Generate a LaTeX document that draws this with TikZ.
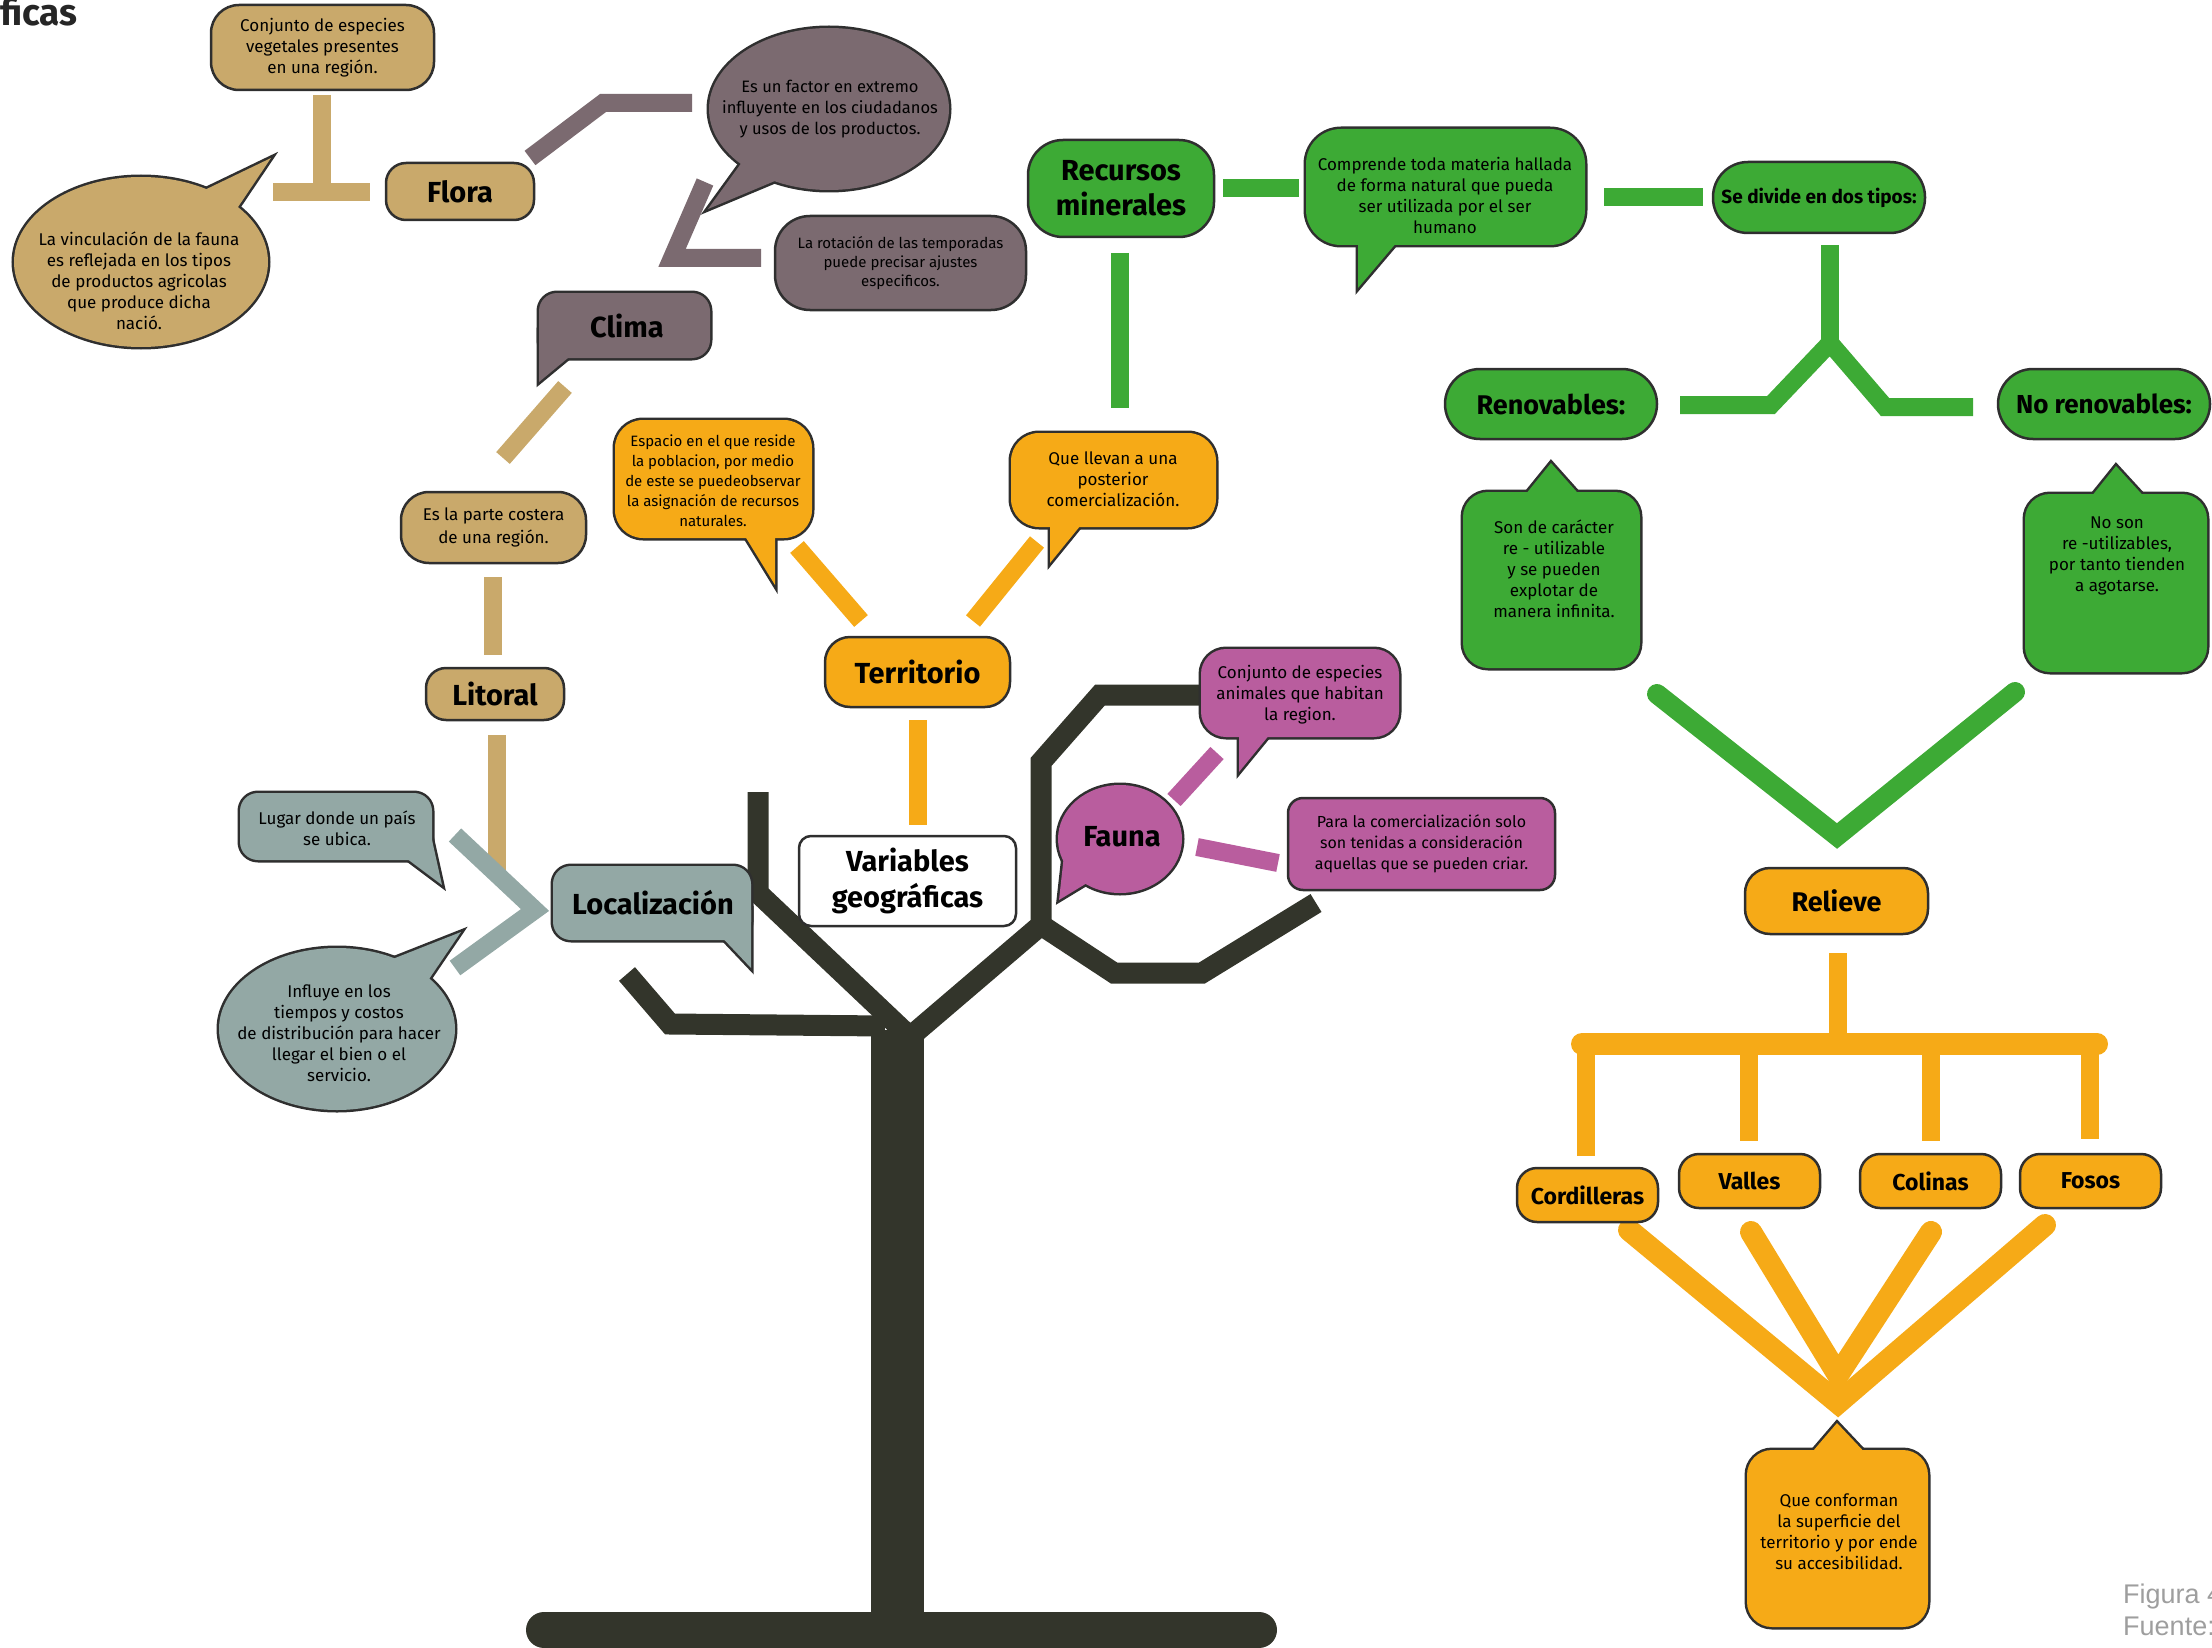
\documentclass[tikz,border=0pt]{standalone}
\usepackage{fontspec}
\setmainfont{Fira Sans}
\newfontfamily\arialf{Liberation Sans}
\definecolor{tanC}{HTML}{C9A96B}
\definecolor{mauveC}{HTML}{7B6A70}
\definecolor{greenC}{HTML}{3DAA35}
\definecolor{orangeC}{HTML}{F6AA17}
\definecolor{pinkC}{HTML}{B95D9E}
\definecolor{grayC}{HTML}{93A8A5}
\definecolor{treeC}{HTML}{33352B}
\definecolor{lnc}{HTML}{2F2F2F}
\newcommand\spk[3]{%
  \draw[draw=lnc,line width=5pt] #2;
  \draw[draw=lnc,line width=5pt] #3;
  \fill[#1] #2;
  \fill[#1] #3;}
\begin{document}
\begin{tikzpicture}[x=1pt,y=-1pt,
  bar/.style={line width=18pt},
  treeln/.style={draw=treeC, line width=21pt},
  rbox/.style={draw=lnc, line width=2.5pt, align=center, inner sep=0pt},
  lbl/.style={font=\fontsize{29}{35}\selectfont\bfseries},
  mlbl/.style={font=\fontsize{23}{28}\selectfont\bfseries},
  txt/.style={font=\fontsize{17}{21}\selectfont, align=center, inner sep=0pt},
  stxt/.style={font=\fontsize{15}{19}\selectfont, align=center, inner sep=0pt}]
\useasboundingbox (0,0) rectangle (2212,1648);
\clip (0,0) rectangle (2212,1648);

% ---------- tree ----------
\coordinate (tA) at (758,792); \coordinate (tB) at (758,893); \coordinate (tJ) at (908,1035);
\coordinate (tJ2) at (897,1048); \coordinate (tC) at (1041,925); \coordinate (tD) at (1041,762);
\coordinate (tE) at (1100,695); \coordinate (tF) at (1199,695);
\coordinate (tG) at (1114,973); \coordinate (tH) at (1202,973); \coordinate (tI) at (1316,903);
\coordinate (tK) at (627,974); \coordinate (tL) at (670,1024); \coordinate (tM) at (885,1026);
\coordinate (tT1) at (897,1030); \coordinate (tT2) at (897,1625);
\coordinate (tb1) at (544,1630); \coordinate (tb2) at (1259,1630);
\draw[treeln] (tA) -- (tB) -- (tJ);
\draw[treeln] (tJ2) -- (tC) -- (tD) -- (tE) -- (tF);
\draw[treeln] (tC) -- (tG) -- (tH) -- (tI);
\draw[treeln] (tK) -- (tL) -- (tM);
\draw[draw=treeC, line width=53pt] (tT1) -- (tT2);
\draw[draw=treeC, line width=36pt, line cap=round] (tb1) -- (tb2);

% ---------- connectors ----------
\coordinate (c1) at (322,95); \coordinate (c2) at (322,192);
\coordinate (c3) at (273,192); \coordinate (c4) at (370,192);
\draw[bar, tanC] (c1) -- (c2); \draw[bar, tanC] (c3) -- (c4);
\coordinate (m1) at (530,158); \coordinate (m2) at (603,103); \coordinate (m3) at (692,103);
\draw[bar, mauveC] (m1) -- (m2) -- (m3);
\coordinate (m4) at (705,182); \coordinate (m5) at (672,258); \coordinate (m6) at (761,258);
\draw[bar, mauveC] (m4) -- (m5) -- (m6);
\coordinate (t1) at (565,387); \coordinate (t2) at (503,458);
\draw[bar, tanC] (t1) -- (t2);
\coordinate (t3) at (493,577); \coordinate (t4) at (493,655);
\draw[bar, tanC] (t3) -- (t4);
\coordinate (t5) at (497,735); \coordinate (t6) at (497,870);
\draw[bar, tanC] (t5) -- (t6);
\coordinate (g1) at (455,835); \coordinate (g2) at (535,910); \coordinate (g3) at (455,968);
\draw[bar, grayC] (g1) -- (g2) -- (g3);
\coordinate (o1) at (797,547); \coordinate (o2) at (861,621);
\coordinate (o3) at (1037,542); \coordinate (o4) at (973,621);
\coordinate (o5) at (918,720); \coordinate (o6) at (918,825);
\draw[bar, orangeC] (o1) -- (o2); \draw[bar, orangeC] (o3) -- (o4); \draw[bar, orangeC] (o5) -- (o6);
\coordinate (p1) at (1217,753); \coordinate (p2) at (1174,800);
\coordinate (p3) at (1197,847); \coordinate (p4) at (1278,863);
\draw[bar, pinkC] (p1) -- (p2); \draw[bar, pinkC] (p3) -- (p4);
\coordinate (v1) at (1120,253); \coordinate (v2) at (1120,408);
\coordinate (v3) at (1223,188); \coordinate (v4) at (1299,188);
\coordinate (v5) at (1604,197); \coordinate (v6) at (1703,197);
\draw[bar, greenC] (v1) -- (v2); \draw[bar, greenC] (v3) -- (v4); \draw[bar, greenC] (v5) -- (v6);
\coordinate (y1) at (1830,245); \coordinate (y2) at (1830,340);
\coordinate (y3) at (1680,405); \coordinate (y4) at (1771,405); \coordinate (y5) at (1830,343);
\coordinate (y6) at (1885,407); \coordinate (y7) at (1973,407);
\draw[bar, greenC] (y3) -- (y4) -- (y5) -- (y6) -- (y7);
\draw[bar, greenC] (y1) -- (y2);
\coordinate (w1) at (1657,694); \coordinate (w2) at (1837,836); \coordinate (w3) at (2015,692);
\draw[bar, greenC, line width=20pt, line cap=round] (w1) -- (w2) -- (w3);
\coordinate (r1) at (1838,953); \coordinate (r2) at (1838,1044);
\coordinate (r3) at (1582,1044); \coordinate (r4) at (2097,1044);
\draw[bar, orangeC] (r1) -- (r2);
\draw[bar, orangeC, line width=22pt, line cap=round] (r3) -- (r4);
\coordinate (d1) at (1586,1044); \coordinate (d1b) at (1586,1156);
\coordinate (d2) at (1749,1044); \coordinate (d2b) at (1749,1141);
\coordinate (d3) at (1931,1044); \coordinate (d3b) at (1931,1141);
\coordinate (d4) at (2090,1044); \coordinate (d4b) at (2090,1139);
\draw[bar, orangeC] (d1) -- (d1b); \draw[bar, orangeC] (d2) -- (d2b);
\draw[bar, orangeC] (d3) -- (d3b); \draw[bar, orangeC] (d4) -- (d4b);
\coordinate (f1) at (1629,1230); \coordinate (f2) at (1751,1232);
\coordinate (f3) at (1931,1232); \coordinate (f4) at (2045,1225);
\coordinate (fo) at (1838,1403); \coordinate (fi) at (1838,1375);
\draw[orangeC, line width=22pt, line cap=round] (f1) -- (fo) -- (f4);
\draw[orangeC, line width=22pt, line cap=round] (f2) -- (fi) -- (f3);

% ---------- speech shapes ----------
\spk{tanC}{(141,262) ellipse [x radius=127pt, y radius=85pt]}{(190,197) -- (232,216) -- (271,158) -- cycle}
\spk{mauveC}{(829,109) ellipse [x radius=120pt, y radius=81pt]}{(745,158) -- (782,178) -- (708,209) -- cycle}
\spk{mauveC}{[rounded corners=18pt] (539,293) rectangle (710,358)}{(539,330) -- (539,382) -- (568,358) -- (570,330) -- cycle}
\spk{orangeC}{[rounded corners=28pt] (615,420) rectangle (812,538)}{(740,528) -- (775,585) -- (775,528) -- cycle}
\spk{orangeC}{[rounded corners=28pt] (1011,433) rectangle (1216,527)}{(1050,510) -- (1050,563) -- (1085,520) -- cycle}
\spk{greenC}{[rounded corners=35pt] (1306,129) rectangle (1585,245)}{(1358,230) -- (1358,288) -- (1403,235) -- cycle}
\spk{greenC}{[rounded corners=25pt] (1463,492) rectangle (1640,668)}{(1521,500) -- (1551,463) -- (1584,500) -- cycle}
\spk{greenC}{[rounded corners=25pt] (2025,494) rectangle (2207,672)}{(2087,502) -- (2116,466) -- (2149,502) -- cycle}
\spk{orangeC}{[rounded corners=25pt] (1747,1450) rectangle (1928,1627)}{(1807,1458) -- (1837,1423) -- (1870,1458) -- cycle}
\spk{grayC}{[rounded corners=18pt] (240,793) rectangle (432,860)}{(398,852) -- (442,885) -- (432,840) -- cycle}
\spk{grayC}{[rounded corners=18pt] (553,866) rectangle (751,940)}{(715,930) -- (751,968) -- (751,910) -- cycle}
\spk{grayC}{(337,1029) ellipse [x radius=118pt, y radius=81pt]}{(385,962) -- (425,985) -- (461,932) -- cycle}
\spk{pinkC}{(1120,839) ellipse [x radius=62pt, y radius=54pt]}{(1064,855) -- (1059,900) -- (1092,880) -- cycle}
\spk{pinkC}{[rounded corners=25pt] (1201,649) rectangle (1399,737)}{(1239,725) -- (1239,772) -- (1275,728) -- cycle}

% ---------- texts of speech shapes ----------
\node[txt] (tanell) at (139,281) {La vinculación de la fauna\\es reflejada en los tipos\\de productos agricolas\\que produce dicha\\nació.};
\node[txt, font=\fontsize{16.5}{21}\selectfont] (mauell) at (830,109) {Es un factor en extremo\\influyente en los ciudadanos\\y usos de los productos.};
\node[lbl] (clima) at (627,326) {Clima};
\node[stxt, font=\fontsize{15}{20}\selectfont] (espacio) at (713,481) {Espacio en el que reside\\la poblacion, por medio\\de este se puedeobservar\\la asignación de recursos\\naturales.};
\node[txt] (llevan) at (1113,479) {Que llevan a una\\posterior\\comercialización.};
\node[txt] (comprende) at (1445,195) {Comprende toda materia hallada\\de forma natural que pueda\\ser utilizada por el ser\\humano};
\node[txt] (soncar) at (1554,569) {Son de carácter\\re - utilizable\\y se pueden\\explotar de\\manera infinita.};
\node[txt] (noson) at (2117,556) {No son\\re -utilizables,\\por tanto tienden\\a agotarse.};
\node[txt] (conforman) at (1839,1532) {Que conforman\\la superficie del\\territorio y por ende\\su accesibilidad.};
\node[txt] (lugar) at (337,828) {Lugar donde un país\\se ubica.};
\node[lbl] (loc) at (653,903) {Localización};
\node[txt] (influye) at (339,1033) {Influye en los\\tiempos y costos\\de distribución para hacer\\llegar el bien o el\\servicio.};
\node[lbl] (fauna) at (1122,837) {Fauna};
\node[txt] (animales) at (1300,695) {Conjunto de especies\\animales que habitan\\la region.};

% ---------- boxes ----------
\node[rbox, txt, fill=tanC, rounded corners=28pt, minimum width=223pt, minimum height=85pt] (veg) at (322.5,47.5) {Conjunto de especies\\vegetales presentes\\en una región.};
\node[rbox, lbl, fill=tanC, rounded corners=20pt, minimum width=148pt, minimum height=57pt] (flora) at (460,191.5) {Flora};
\node[rbox, stxt, fill=mauveC, rounded corners=35pt, minimum width=251pt, minimum height=94pt] (rot) at (900.5,263) {La rotación de las temporadas\\puede precisar ajustes\\especificos.};
\node[rbox, txt, font=\fontsize{17}{23}\selectfont, fill=tanC, rounded corners=28pt, minimum width=185pt, minimum height=71pt] (costa) at (493.5,527.5) {Es la parte costera\\de una región.};
\node[rbox, lbl, fill=tanC, rounded corners=20pt, minimum width=138pt, minimum height=52pt] (litoral) at (495,694) {Litoral};
\node[rbox, lbl, fill=orangeC, rounded corners=25pt, minimum width=185pt, minimum height=70pt] (terr) at (917.5,672) {Territorio};
\node[rbox, lbl, font=\fontsize{29}{36}\selectfont\bfseries, fill=white, rounded corners=12pt, minimum width=217pt, minimum height=90pt] (vars) at (907.5,881) {Variables\\geográficas};
\node[rbox, lbl, font=\fontsize{29}{35}\selectfont\bfseries, fill=greenC, rounded corners=35pt, minimum width=186pt, minimum height=97pt] (rec) at (1121,188.5) {Recursos\\minerales};
\node[rbox, font=\fontsize{19}{24}\selectfont\bfseries, fill=greenC, rounded corners=35pt, minimum width=212pt, minimum height=71pt] (divide) at (1819,197.5) {Se divide en dos tipos:};
\node[rbox, font=\fontsize{27}{32}\selectfont\bfseries, fill=greenC, rounded corners=35pt, minimum width=212pt, minimum height=70pt] (renov) at (1551,404) {Renovables:};
\node[rbox, font=\fontsize{26}{32}\selectfont\bfseries, fill=greenC, rounded corners=35pt, minimum width=212pt, minimum height=70pt] (norenov) at (2104,404) {No renovables:};
\node[rbox, font=\fontsize{27}{32}\selectfont\bfseries, fill=orangeC, rounded corners=25pt, minimum width=183pt, minimum height=66pt] (relieve) at (1836.5,901) {Relieve};
\node[rbox, mlbl, fill=orangeC, rounded corners=20pt, minimum width=141pt, minimum height=54pt] (cord) at (1587.5,1195) {Cordilleras};
\node[rbox, mlbl, fill=orangeC, rounded corners=20pt, minimum width=141pt, minimum height=54pt] (valles) at (1749.5,1181) {Valles};
\node[rbox, mlbl, fill=orangeC, rounded corners=20pt, minimum width=141pt, minimum height=54pt] (colinas) at (1930.5,1181) {Colinas};
\node[rbox, mlbl, fill=orangeC, rounded corners=20pt, minimum width=141pt, minimum height=54pt] (fosos) at (2090.5,1181) {Fosos};
\node[rbox, txt, font=\fontsize{16}{21}\selectfont, fill=pinkC, rounded corners=15pt, minimum width=267pt, minimum height=92pt] (para) at (1421.5,844) {Para la comercialización solo\\son tenidas a consideración\\aquellas que se pueden criar.};

% ---------- loose texts ----------
\node[font=\fontsize{37}{40}\selectfont\bfseries, text=black!85, anchor=base west, inner sep=0pt] (ficas) at (0,26) {ficas};
\node[font=\arialf\fontsize{27}{32}\selectfont, text=black!38, anchor=base west, inner sep=0pt] (fig) at (2123,1603) {Figura 4};
\node[font=\arialf\fontsize{27}{32}\selectfont, text=black!38, anchor=base west, inner sep=0pt] (fte) at (2123,1635) {Fuente:};
\end{tikzpicture}
\end{document}
